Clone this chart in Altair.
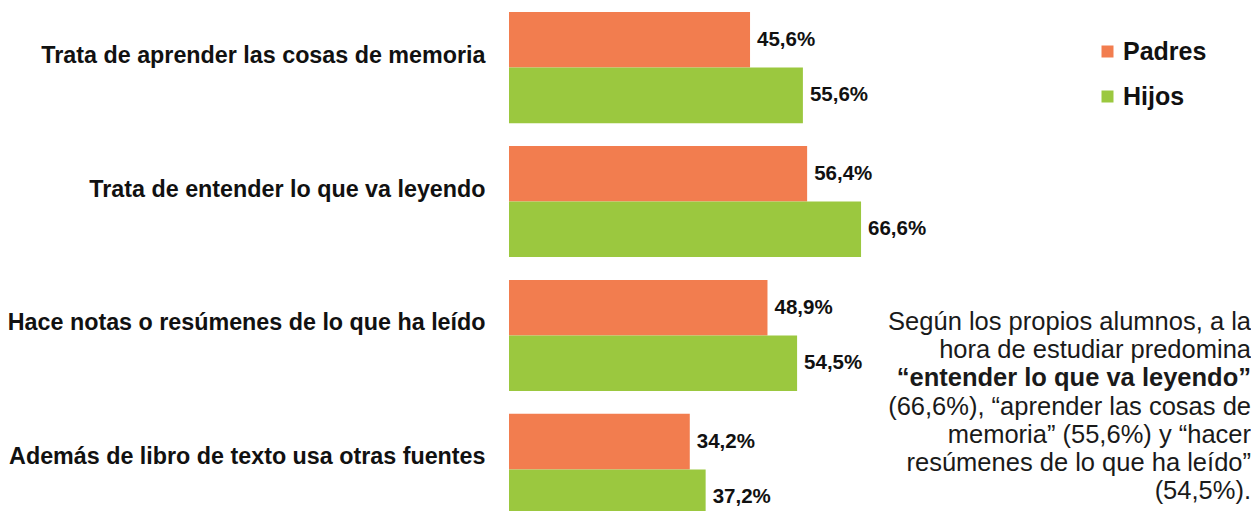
import altair as alt
import pandas as pd

categorias = [
    "Trata de aprender las cosas de memoria",
    "Trata de entender lo que va leyendo",
    "Hace notas o resúmenes de lo que ha leído",
    "Además de libro de texto usa otras fuentes",
]
series = ["Padres", "Hijos"]
padres = [45.6, 56.4, 48.9, 34.2]
hijos = [55.6, 66.6, 54.5, 37.2]
colores = ["#F27D4F", "#9BC83F"]

nota_a = ["Según los propios alumnos, a la", "hora de estudiar predomina"]
nota_b = ["\u201centender lo que va leyendo\u201d"]
nota_c = [
    "(66,6%), \u201caprender las cosas de",
    "memoria\u201d (55,6%) y \u201chacer",
    "resúmenes de lo que ha leído\u201d",
    "(54,5%).",
]

rows = []
for serie, valores in zip(series, [padres, hijos]):
    for cat, v in zip(categorias, valores):
        rows.append({
            "Categoria": cat,
            "Serie": serie,
            "Valor": v,
            "Etiqueta": f"{v:.1f}".replace(".", ",") + "%",
        })
df = pd.DataFrame(rows)

FONT = "Liberation Sans"
W = 742
H = 503

y_enc = alt.Y(
    "Categoria:N",
    sort=categorias,
    scale=alt.Scale(range=[0, 521], paddingInner=0.17, paddingOuter=0.03),
    axis=alt.Axis(
        title=None, ticks=False, domain=False, labelPadding=24,
        labelFontSize=23.3, labelFontWeight="bold", labelColor="#111111",
        labelFont=FONT, labelLimit=600, labelOffset=-12,
    ),
)
yoff = alt.YOffset("Serie:N", sort=series, scale=alt.Scale(paddingInner=0, paddingOuter=0))
x_enc = alt.X("Valor:Q", scale=alt.Scale(domain=[0, W / 5.286], nice=False), axis=None)

base = alt.Chart(df)

bars = base.mark_bar().encode(
    y=y_enc,
    yOffset=yoff,
    x=x_enc,
    color=alt.Color(
        "Serie:N",
        sort=series,
        scale=alt.Scale(domain=series, range=colores),
        legend=alt.Legend(
            title=None, orient="none", legendX=586, legendY=31,
            symbolType="square", symbolSize=144, symbolStrokeWidth=0,
            labelFontSize=25, labelFontWeight="bold", labelFont=FONT,
            labelColor="#111111", labelOffset=3, rowPadding=19, padding=0,
        ),
    ),
)

labels = base.mark_text(
    align="left", baseline="middle", dx=7, fontSize=20.5, fontWeight="bold",
    font=FONT, color="#111111",
).encode(
    y=y_enc,
    yOffset=yoff,
    x=x_enc,
    text="Etiqueta:N",
)

def nota(lines, y, weight):
    return alt.Chart(pd.DataFrame({"t": [0]})).mark_text(
        text=lines, align="right", baseline="alphabetic", fontSize=25.5,
        lineHeight=28, font=FONT, fontWeight=weight, color="#1a1a1a",
    ).encode(x=alt.value(W), y=alt.value(y))

chart = alt.layer(
    bars, labels,
    nota(nota_a, 322, "normal"),
    nota(nota_b, 378, "bold"),
    nota(nota_c, 407, "normal"),
).properties(
    width=W, height=H,
    autosize=alt.AutoSizeParams(type="none"),
    padding={"left": 501, "top": 0, "right": 0, "bottom": 0},
    background="white",
).configure_view(stroke=None)

chart.save("out.html", embed_options={"renderer": "svg", "actions": False})
